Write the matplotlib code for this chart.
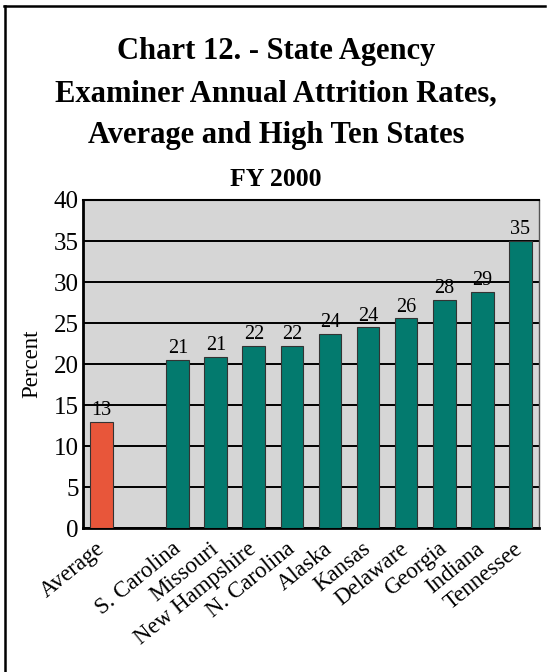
import matplotlib
matplotlib.use("Agg")
import matplotlib.pyplot as plt
from matplotlib.lines import Line2D

categories = ["Average", "S. Carolina", "Missouri", "New Hampshire", "N. Carolina",
              "Alaska", "Kansas", "Delaware", "Georgia", "Indiana", "Tennessee"]
values = [13.0, 20.5, 20.9, 22.2, 22.2, 23.7, 24.5, 25.6, 27.8, 28.8, 35.0]
value_labels = ["13", "21", "21", "22", "22", "24", "24", "26", "28", "29", "35"]
yticks = [0, 5, 10, 15, 20, 25, 30, 35, 40]

plt.rcParams['font.family'] = ['Liberation Serif', 'DejaVu Serif']

fig = plt.figure(figsize=(5.52, 6.72), dpi=100)
ax = fig.add_axes([0.1498, 0.2138, 0.827, 0.4886])

# Average in slot 0, gap slot 1, states from slot 2 on
positions = [0] + [i + 1 for i in range(1, len(categories))]
colors = ["#E8563A"] + ["#037A6E"] * (len(categories) - 1)

ax.set_facecolor("#D6D6D6")
ax.set_axisbelow(True)
ax.yaxis.grid(True, color="black", linewidth=1.4)
ax.bar(positions, values, width=0.6, color=colors, edgecolor="#333333", linewidth=0.8, zorder=3)

for x, v, lab in zip(positions, values, value_labels):
    ax.text(x, v + 0.2, lab, ha="center", va="bottom", fontsize=14.5, zorder=4)

ax.set_xlim(-0.5, 11.5)
ax.set_ylim(0, 40)
ax.set_yticks(yticks)
ax.set_yticklabels([str(t) for t in yticks], fontsize=18)
ax.tick_params(axis="y", length=0, pad=3)
ax.set_xticks(positions)
ax.set_xticklabels(categories, fontsize=16.5, rotation=39, ha="right", rotation_mode="anchor")
ax.tick_params(axis="x", length=0, pad=13)
for lbl in ax.get_xticklabels():
    lbl.set_va("center")

for s in ["left", "bottom"]:
    ax.spines[s].set_linewidth(2)
ax.spines["top"].set_linewidth(1.5)
ax.spines["right"].set_linewidth(1.0)
ax.spines["right"].set_color("#555555")

ax.set_ylabel("Percent", fontsize=16.5, labelpad=8)

fig.text(0.5, 1 - 52 / 672, "Chart 12. - State Agency", ha="center", va="center",
         fontsize=22, fontweight="bold")
fig.text(0.5, 1 - 94 / 672, "Examiner Annual Attrition Rates,", ha="center", va="center",
         fontsize=22, fontweight="bold")
fig.text(0.5, 1 - 136 / 672, "Average and High Ten States", ha="center", va="center",
         fontsize=22, fontweight="bold")
fig.text(0.5, 1 - 180 / 672, "FY 2000", ha="center", va="center",
         fontsize=18.5, fontweight="bold")

# partial frame (top and left)
fig.add_artist(Line2D([4 / 552, 545 / 552], [1 - 5.5 / 672, 1 - 5.5 / 672],
                      color="black", linewidth=1.8, transform=fig.transFigure))
fig.add_artist(Line2D([4.5 / 552, 4.5 / 552], [0, 1 - 5.5 / 672],
                      color="black", linewidth=1.8, transform=fig.transFigure))

fig.savefig("out.png", dpi=100)
